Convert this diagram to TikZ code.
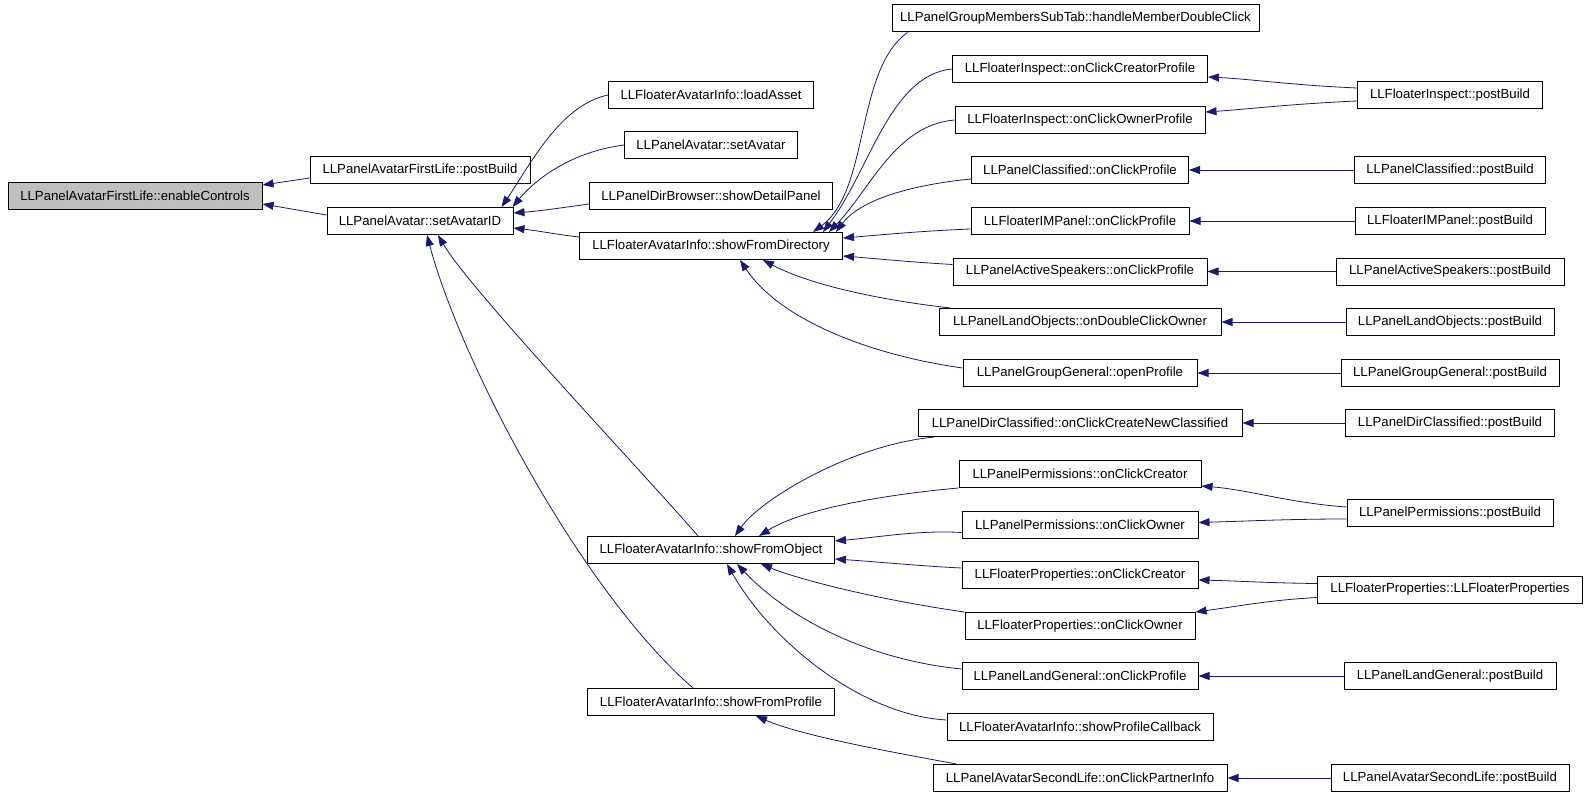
\documentclass[tikz,border=0pt]{standalone}
\usepackage{fontspec}
\setmainfont{Liberation Sans}
\usepackage{xcolor}
\usepackage{tikz}
\usetikzlibrary{arrows.meta}
\definecolor{callblue}{HTML}{191970}
\definecolor{rootgray}{HTML}{BFBFBF}
\tikzset{
  fn/.style={draw=black, fill=white, line width=1pt, inner sep=0pt, minimum height=27pt, font=\fontsize{13.2}{15}\selectfont},
  rootfn/.style={fn, fill=rootgray},
  call/.style={draw=callblue, line width=0.8pt, -{Triangle[length=11pt,width=8pt]}}
}
\begin{document}
\begin{tikzpicture}[x=1pt, y=-1pt]
  \fill[white] (0,0) rectangle (1587,797);
  \useasboundingbox (0,0) rectangle (1587,797);

  \node[rootfn, minimum width=254pt] (ec) at (135,196) {LLPanelAvatarFirstLife::enableControls};
  \node[fn, minimum width=220pt] (fpb) at (420,170) {LLPanelAvatarFirstLife::postBuild};
  \node[fn, minimum width=186pt] (sai) at (420,221) {LLPanelAvatar::setAvatarID};

  \node[fn, minimum width=205pt] (la) at (711,95) {LLFloaterAvatarInfo::loadAsset};
  \node[fn, minimum width=173pt] (sa) at (711,145) {LLPanelAvatar::setAvatar};
  \node[fn, minimum width=243pt] (sdp) at (711,196) {LLPanelDirBrowser::showDetailPanel};
  \node[fn, minimum width=263pt] (sfd) at (711,246) {LLFloaterAvatarInfo::showFromDirectory};
  \node[fn, minimum width=247pt] (sfo) at (711,550) {LLFloaterAvatarInfo::showFromObject};
  \node[fn, minimum width=247pt] (sfp) at (711,702) {LLFloaterAvatarInfo::showFromProfile};

  \node[fn, minimum width=367pt] (hmdc) at (1075.5,18.5) {LLPanelGroupMembersSubTab::handleMemberDoubleClick};
  \node[fn, minimum width=255pt] (icp) at (1080,69) {LLFloaterInspect::onClickCreatorProfile};
  \node[fn, minimum width=250pt] (iop) at (1080,120) {LLFloaterInspect::onClickOwnerProfile};
  \node[fn, minimum width=217pt] (pcp) at (1080,170) {LLPanelClassified::onClickProfile};
  \node[fn, minimum width=218pt] (imp) at (1080,221) {LLFloaterIMPanel::onClickProfile};
  \node[fn, minimum width=254pt] (asp) at (1080,271.5) {LLPanelActiveSpeakers::onClickProfile};
  \node[fn, minimum width=282pt] (ldo) at (1080,322) {LLPanelLandObjects::onDoubleClickOwner};
  \node[fn, minimum width=234pt] (ggp) at (1080,373) {LLPanelGroupGeneral::openProfile};
  \node[fn, minimum width=324pt] (dcn) at (1080,423) {LLPanelDirClassified::onClickCreateNewClassified};
  \node[fn, minimum width=242pt] (ppc) at (1080,474) {LLPanelPermissions::onClickCreator};
  \node[fn, minimum width=236pt] (ppo) at (1080,524.5) {LLPanelPermissions::onClickOwner};
  \node[fn, minimum width=236pt] (fpc) at (1080,575) {LLFloaterProperties::onClickCreator};
  \node[fn, minimum width=230pt] (fpo) at (1080,626) {LLFloaterProperties::onClickOwner};
  \node[fn, minimum width=236pt] (lgp) at (1080,676) {LLPanelLandGeneral::onClickProfile};
  \node[fn, minimum width=266pt] (spc) at (1080,727) {LLFloaterAvatarInfo::showProfileCallback};
  \node[fn, minimum width=294pt] (cpi) at (1080,778) {LLPanelAvatarSecondLife::onClickPartnerInfo};

  \node[fn, minimum width=185pt] (fipb) at (1450,95) {LLFloaterInspect::postBuild};
  \node[fn, minimum width=191pt] (pcpb) at (1450,170) {LLPanelClassified::postBuild};
  \node[fn, minimum width=190pt] (impb) at (1450,221) {LLFloaterIMPanel::postBuild};
  \node[fn, minimum width=228pt] (aspb) at (1450,271.5) {LLPanelActiveSpeakers::postBuild};
  \node[fn, minimum width=208pt] (lopb) at (1450,322) {LLPanelLandObjects::postBuild};
  \node[fn, minimum width=218pt] (ggpb) at (1450,373) {LLPanelGroupGeneral::postBuild};
  \node[fn, minimum width=209pt] (dcpb) at (1450,423) {LLPanelDirClassified::postBuild};
  \node[fn, minimum width=206pt] (pppb) at (1450,513) {LLPanelPermissions::postBuild};
  \node[fn, minimum width=265pt] (fpfp) at (1450,589.5) {LLFloaterProperties::LLFloaterProperties};
  \node[fn, minimum width=212pt] (lgpb) at (1450,676) {LLPanelLandGeneral::postBuild};
  \node[fn, minimum width=238pt] (aslpb) at (1450,778) {LLPanelAvatarSecondLife::postBuild};

  \draw[call] ([yshift=-8pt]fpb.west) -- ([yshift=11pt]ec.east);
  \draw[call] ([yshift=6pt]sai.west) -- ([yshift=-8pt]ec.east);

  \draw[call] (la.west) .. controls (560,105) and (530,165) .. ([xshift=-12pt]sai.north east);
  \draw[call] (sa.west) .. controls (570,152) and (535,180) .. ([xshift=-1pt]sai.north east);
  \draw[call] ([yshift=-8pt]sdp.west) .. controls (560,208) and (540,211) .. ([yshift=8pt]sai.east);
  \draw[call] ([yshift=9pt]sfd.west) .. controls (560,235) and (540,231) .. ([yshift=-7pt]sai.east);
  \draw[call] ([xshift=-13pt]sfo.north) .. controls (650,480) and (470,290) .. ([xshift=18pt]sai.south);
  \draw[call] ([xshift=-18pt]sfp.north) .. controls (580,590) and (460,360) .. ([xshift=7pt]sai.south);

  \draw[call] ([xshift=16pt]hmdc.south west) .. controls (855,70) and (870,190) .. ([xshift=-30pt]sfd.north east);
  \draw[call] (icp.west) .. controls (890,75) and (870,170) .. ([xshift=-20pt]sfd.north east);
  \draw[call] (iop.west) .. controls (895,125) and (870,190) .. ([xshift=-14pt]sfd.north east);
  \draw[call] ([yshift=-9pt]pcp.west) .. controls (910,185) and (860,200) .. ([xshift=-7pt]sfd.north east);
  \draw[call] ([yshift=-8pt]imp.west) .. controls (920,231) and (880,235) .. ([yshift=8pt]sfd.east);
  \draw[call] ([yshift=7pt]asp.west) .. controls (910,262) and (880,259) .. ([yshift=-10pt]sfd.east);
  \draw[call] ([xshift=12pt]ldo.north west) .. controls (880,300) and (810,285) .. ([xshift=52pt]sfd.south);
  \draw[call] ([yshift=5pt]ggp.west) .. controls (870,355) and (780,320) .. ([xshift=29pt]sfd.south);

  \draw[call] ([xshift=17pt]dcn.south west) .. controls (850,445) and (760,500) .. ([xshift=24pt]sfo.north);
  \draw[call] (ppc.south west) .. controls (880,495) and (800,510) .. ([xshift=48pt]sfo.north);
  \draw[call] ([yshift=-8pt]ppo.west) .. controls (920,530) and (880,537) .. ([yshift=9pt]sfo.east);
  \draw[call] ([yshift=7pt]fpc.west) .. controls (920,566) and (880,562) .. ([yshift=-9pt]sfo.east);
  \draw[call] (fpo.north west) .. controls (880,600) and (800,580) .. ([xshift=50pt]sfo.south);
  \draw[call] ([yshift=7pt]lgp.west) .. controls (870,660) and (790,620) .. ([xshift=26pt]sfo.south);
  \draw[call] ([yshift=7pt]spc.west) .. controls (860,715) and (770,640) .. ([xshift=16pt]sfo.south);
  \draw[call] ([xshift=24pt]cpi.north west) .. controls (880,750) and (800,735) .. ([xshift=45pt]sfp.south);

  \draw[call] ([yshift=7pt]fipb.west) .. controls (1290,85) and (1250,79) .. ([yshift=-8pt]icp.east);
  \draw[call] ([yshift=-6pt]fipb.west) .. controls (1290,104) and (1250,109) .. ([yshift=8pt]iop.east);
  \draw[call] (pcpb.west) -- (pcp.east);
  \draw[call] (impb.west) -- (imp.east);
  \draw[call] (aspb.west) -- (asp.east);
  \draw[call] (lopb.west) -- (ldo.east);
  \draw[call] (ggpb.west) -- (ggp.east);
  \draw[call] (dcpb.west) -- (dcn.east);
  \draw[call] ([yshift=6pt]pppb.west) .. controls (1290,503) and (1250,490) .. ([yshift=-12pt]ppc.east);
  \draw[call] ([yshift=-6pt]pppb.west) .. controls (1290,519) and (1250,521) .. ([yshift=2pt]ppo.east);
  \draw[call] ([yshift=6pt]fpfp.west) .. controls (1270,583) and (1240,581) .. ([yshift=-5pt]fpc.east);
  \draw[call] ([yshift=-8pt]fpfp.west) .. controls (1270,600) and (1240,606) .. (fpo.north east);
  \draw[call] (lgpb.west) -- (lgp.east);
  \draw[call] (aslpb.west) -- (cpi.east);
\end{tikzpicture}
\end{document}
